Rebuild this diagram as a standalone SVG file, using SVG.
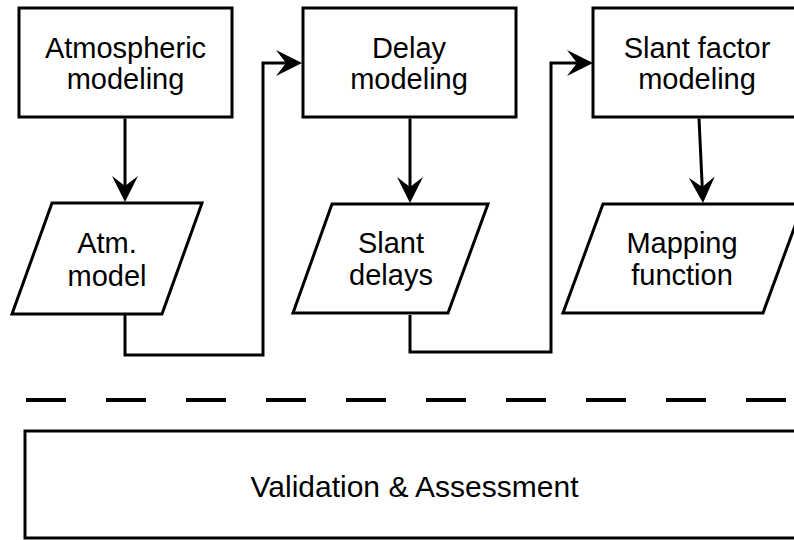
<svg xmlns="http://www.w3.org/2000/svg" width="794" height="540" viewBox="0 0 794 540">
<style>
.shape{fill:#fff;stroke:#000;stroke-width:3;stroke-linejoin:miter}
.conn{fill:none;stroke:#000;stroke-width:3;stroke-linejoin:miter}
.lbl{font-family:"Liberation Sans",Arial,sans-serif;font-size:29px;fill:#000;text-anchor:middle}
.big{font-size:30px}
.sep{fill:none;stroke:#000;stroke-width:4;stroke-dasharray:40 40}
</style>
<defs>
<marker id="arr" markerUnits="userSpaceOnUse" viewBox="0 0 26 28" markerWidth="26" markerHeight="28" refX="10" refY="14" orient="auto">
<path d="M26,14 L0,1 L10,14 L0,27 Z" fill="#000"/>
</marker>
</defs>
<rect width="794" height="540" fill="#fff"/>
<g id="connectors">
<path class="conn" d="M125,118.5 V186" marker-end="url(#arr)"/>
<path class="conn" d="M410,118.5 V187" marker-end="url(#arr)"/>
<path class="conn" d="M699,118.5 L702.24,187.02" marker-end="url(#arr)"/>
<path class="conn" d="M125,315 V355 H263 V63 H286" marker-end="url(#arr)"/>
<path class="conn" d="M410,315 V352 H551 V63 H577" marker-end="url(#arr)"/>
</g>
<g id="atmospheric-modeling">
<rect class="shape" x="19" y="8" width="213" height="109"/>
<text class="lbl" x="125.5" y="58">Atmospheric</text>
<text class="lbl" x="125.5" y="89">modeling</text>
</g>
<g id="delay-modeling">
<rect class="shape" x="303" y="8" width="213" height="109"/>
<text class="lbl" x="409" y="58">Delay</text>
<text class="lbl" x="409" y="89">modeling</text>
</g>
<g id="slant-factor-modeling">
<rect class="shape" x="593" y="8" width="213" height="109"/>
<text class="lbl" x="697" y="58">Slant factor</text>
<text class="lbl" x="697" y="89">modeling</text>
</g>
<g id="atm-model">
<polygon class="shape" points="52,203 202,203 162,314 12,314"/>
<text class="lbl" x="107" y="253">Atm.</text>
<text class="lbl" x="107" y="286">model</text>
</g>
<g id="slant-delays">
<polygon class="shape" points="332,204 488,204 448,313 293,313"/>
<text class="lbl" x="391" y="253">Slant</text>
<text class="lbl" x="391" y="285">delays</text>
</g>
<g id="mapping-function">
<polygon class="shape" points="603,204 803,204 763,313 563,313"/>
<text class="lbl" x="682" y="253">Mapping</text>
<text class="lbl" x="682" y="285">function</text>
</g>
<g id="separator">
<path class="sep" d="M26,400 H794"/>
</g>
<g id="validation-assessment">
<rect class="shape" x="25" y="431" width="790" height="107"/>
<text class="lbl big" x="414.5" y="497">Validation &amp; Assessment</text>
</g>
</svg>
